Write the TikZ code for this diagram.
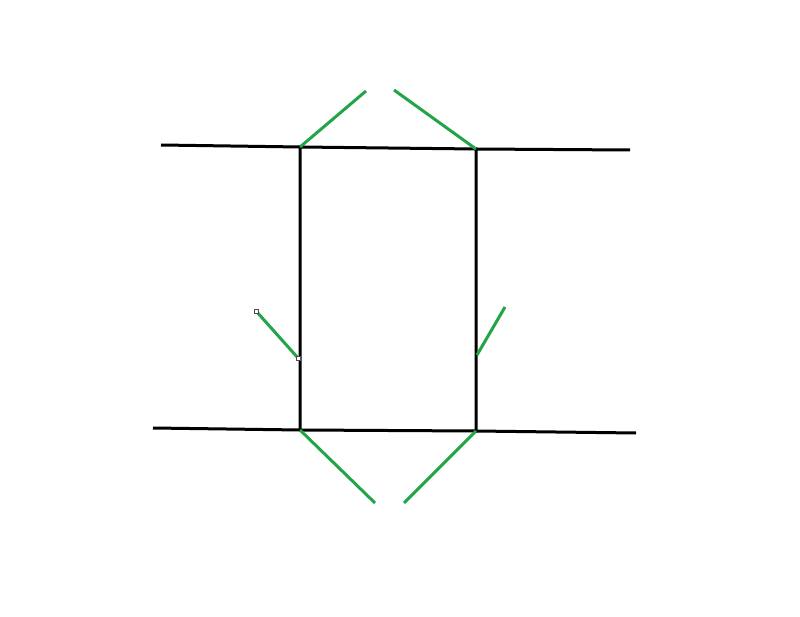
\documentclass[tikz,border=0pt]{standalone}
\usepackage{tikz}
\usetikzlibrary{positioning}

\definecolor{wiregreen}{RGB}{34,165,72}

\tikzset{
	frame/.style={line width=3pt, black},
	stub/.style={line width=3pt, wiregreen},
	handle/.style={draw=black!70, fill=white, line width=0.6pt, minimum size=4pt, inner sep=0pt}
}

\begin{document}
\begin{tikzpicture}[x=1pt, y=-1pt]

	\useasboundingbox (0,0) rectangle (800,617);

	% box corners
	\coordinate (tl) at (300,147);
	\coordinate (tr) at (476,149);
	\coordinate (bl) at (300,430);
	\coordinate (br) at (476,431);

	% outer leads
	\coordinate (tlout) at (161,145);
	\coordinate (trout) at (630,150);
	\coordinate (blout) at (153,428);
	\coordinate (brout) at (636,433);

	\draw[frame] (tl) -- (tr) -- (br) -- (bl) -- cycle;
	\draw[frame]
	(tlout)		-- (tl)
	(tr)		-- (trout)
	(blout)		-- (bl)
	(br)		-- (brout)
	;

	% green strokes
	\coordinate (topA) at (366,91);
	\coordinate (topB) at (394,90);
	\coordinate (botA) at (375,503);
	\coordinate (botB) at (404,503);
	\coordinate (rmid) at (477,355);
	\coordinate (rtip) at (505,307);
	\node[handle] (lmid) at (298,358) {};
	\node[handle] (ltip) at (256,311) {};

	\draw[stub]
	(tl)		-- (topA)
	(topB)		-- (tr)
	(bl)		-- (botA)
	(botB)		-- (br)
	(rmid)		-- (rtip)
	(ltip.center)	-- (lmid.center)
	;
	\node[handle] at (lmid) {};
	\node[handle] at (ltip) {};

\end{tikzpicture}
\end{document}
